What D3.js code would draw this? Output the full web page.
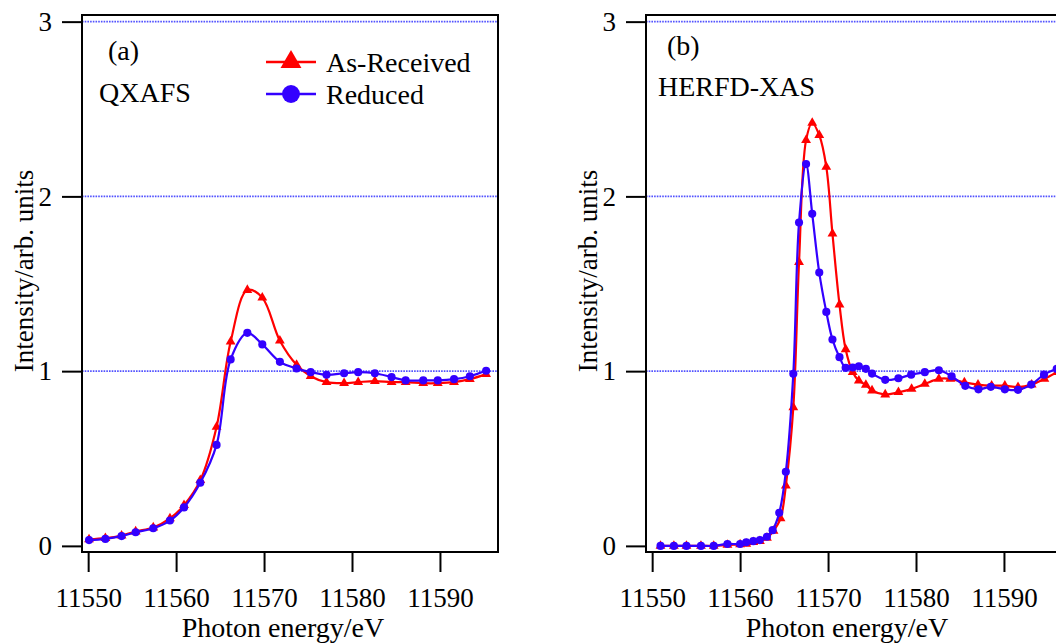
<!DOCTYPE html>
<html>
<head>
<meta charset="utf-8">
<script src="https://cdn.jsdelivr.net/npm/d3@7"></script>
<style>
	body { margin: 0; background: #fff; }
	svg { display: block; }
	svg text { font-family: "Liberation Serif", "DejaVu Serif", "Times New Roman", serif !important; fill: #000; }
</style>
</head>
<body>
<svg id="chart" width="1056" height="644"></svg>
<script>
(function(d3) {
	'use strict';

	/** data */
	var yTicks = [0, 1, 2, 3];
	var xTicks = [11550, 11560, 11570, 11580, 11590];
	var gridLevels = [1, 2, 3];

	var qxafsEnergy = [11550.1, 11551.96, 11553.8, 11555.4, 11557.4, 11559.3, 11560.9, 11562.75, 11564.6, 11566.2, 11568.1, 11569.8, 11571.8, 11573.7, 11575.3, 11577.1, 11579.1, 11580.7, 11582.6, 11584.5, 11586.1, 11588.1, 11589.75, 11591.6, 11593.4, 11595.25];
	var qxafsAsReceived = [0.037, 0.044, 0.059, 0.082, 0.105, 0.157, 0.233, 0.376, 0.681, 1.168, 1.464, 1.42, 1.174, 1.036, 0.971, 0.937, 0.931, 0.937, 0.943, 0.937, 0.937, 0.931, 0.931, 0.937, 0.954, 0.983];
	var qxafsReduced = [0.033, 0.040, 0.056, 0.078, 0.101, 0.145, 0.220, 0.361, 0.578, 1.067, 1.219, 1.153, 1.053, 1.015, 0.994, 0.979, 0.988, 0.994, 0.988, 0.966, 0.947, 0.947, 0.947, 0.954, 0.971, 1.002];

	var herfdEnergyAs = [11550.95, 11552.47, 11553.9, 11555.55, 11557.0, 11558.56, 11560.0, 11560.7, 11561.5, 11562.25, 11563.05, 11563.8, 11564.6, 11565.2, 11566.05, 11566.7, 11567.5, 11568.2, 11569.0, 11569.8, 11570.5, 11571.3, 11572.0, 11572.8, 11573.5, 11574.3, 11575.0, 11576.5, 11578.0, 11579.5, 11581.0, 11582.6, 11583.9, 11585.5, 11587.05, 11588.6, 11590.1, 11591.6, 11593.15, 11594.6, 11596.05];
	var herfdAsReceived = [0, 0, 0, 0, 0, 0.005, 0.008, 0.011, 0.021, 0.027, 0.046, 0.086, 0.157, 0.344, 0.793, 1.624, 2.322, 2.42, 2.35, 2.169, 1.787, 1.381, 1.125, 0.994, 0.946, 0.921, 0.889, 0.866, 0.879, 0.898, 0.927, 0.956, 0.956, 0.936, 0.923, 0.917, 0.917, 0.908, 0.923, 0.956, 0.994];
	var herfdEnergyRed = [11550.95, 11552.47, 11553.9, 11555.55, 11557.0, 11558.56, 11560.0, 11560.7, 11561.5, 11562.25, 11563.05, 11563.7, 11564.45, 11565.2, 11566.05, 11566.7, 11567.5, 11568.2, 11569.0, 11569.8, 11570.5, 11571.3, 11572.0, 11572.8, 11573.5, 11574.3, 11575.0, 11576.5, 11578.0, 11579.45, 11581.0, 11582.6, 11584.05, 11585.6, 11587.1, 11588.5, 11590.1, 11591.6, 11593.1, 11594.55, 11596.0];
	var herfdReduced = [0, 0, 0, 0, 0, 0.011, 0.011, 0.021, 0.027, 0.033, 0.052, 0.090, 0.189, 0.424, 0.985, 1.85, 2.185, 1.90, 1.564, 1.339, 1.181, 1.080, 1.019, 1.021, 1.028, 1.013, 0.986, 0.950, 0.959, 0.980, 0.994, 1.005, 0.971, 0.916, 0.896, 0.910, 0.896, 0.893, 0.923, 0.980, 1.013];

	var seriesNames = ['As-Received', 'Reduced'];

	var RED = '#ff0000', BLUE = '#3300ff', GRID = '#5252ff';
	var plotTop = 15, plotBottom = 552, plotWidth = 416;

	var svg = d3.select('#chart');

	var zip = function(xs, ys) {
		return xs.map(function(x, i) { return [x, ys[i]]; });
	};

	var Panel = function(left, id, tag, title, tagX, titleX, tagY, titleY, series) {
		var x = d3.scaleLinear().domain([11549.3, 11596.6]).range([0, plotWidth]);
		var y = d3.scaleLinear().domain([-0.035, 3.038]).range([plotBottom - plotTop, 0]);
		var h = plotBottom - plotTop;
		var g = svg.append('g').attr('transform', 'translate(' + left + ',' + plotTop + ')');

		g.append('clipPath').attr('id', 'clip-' + id)
			.append('rect').attr('width', plotWidth).attr('height', h);

		/** grid */
		g.append('g').selectAll('line').data(gridLevels).enter().append('line')
			.attr('x1', 0).attr('x2', plotWidth)
			.attr('y1', y).attr('y2', y)
			.attr('stroke', GRID).attr('stroke-width', 1.6)
			.attr('stroke-dasharray', '1.6,1.1');

		/** curves, red first so blue sits on top */
		var line = d3.line()
			.x(function(d) { return x(d[0]); })
			.y(function(d) { return y(d[1]); })
			.curve(d3.curveCatmullRom.alpha(0.5));
		var marks = g.append('g').attr('clip-path', 'url(#clip-' + id + ')');
		series.forEach(function(s) {
			var pts = zip(s.energy, s.values);
			marks.append('path').datum(pts)
				.attr('d', line).attr('fill', 'none')
				.attr('stroke', s.color).attr('stroke-width', 2.2);
			marks.append('g').selectAll('path').data(pts).enter().append('path')
				.attr('transform', function(d) { return 'translate(' + x(d[0]) + ',' + y(d[1]) + ')'; })
				.attr('d', d3.symbol().type(s.symbol).size(s.symbol === d3.symbolTriangle ? 42 : 52))
				.attr('fill', s.color);
		});

		/** frame */
		g.append('rect').attr('width', plotWidth).attr('height', h)
			.attr('fill', 'none').attr('stroke', '#000').attr('stroke-width', 2);

		/** axes */
		var yAxis = g.append('g').call(d3.axisLeft(y).tickValues(yTicks).tickSize(20).tickPadding(10)
			.tickFormat(d3.format('d')));
		var xAxis = g.append('g').attr('transform', 'translate(0,' + h + ')')
			.call(d3.axisBottom(x).tickValues(xTicks).tickSize(20).tickPadding(16)
			.tickFormat(d3.format('d')));
		[yAxis, xAxis].forEach(function(a) {
			a.attr('font-family', null);
			a.select('.domain').remove();
			a.selectAll('line').attr('stroke', '#000').attr('stroke-width', 2);
			a.selectAll('text').attr('font-size', 27);
		});

		/** labels */
		g.append('text').attr('x', plotWidth / 2 - 7).attr('y', 637 - plotTop)
			.attr('text-anchor', 'middle').attr('font-size', 28).text('Photon energy/eV');
		g.append('text').attr('transform', 'translate(-49,' + (271 - plotTop) + ') rotate(-90)')
			.attr('text-anchor', 'middle').attr('font-size', 27).text('Intensity/arb. units');
		g.append('text').attr('x', tagX).attr('y', tagY - plotTop).attr('font-size', 28).text(tag);
		g.append('text').attr('x', titleX).attr('y', titleY - plotTop).attr('font-size', 28).text(title);
	};

	new Panel(82, 'a', '(a)', 'QXAFS', 26, 17, 60, 102, [
		{ energy: qxafsEnergy, values: qxafsAsReceived, color: RED, symbol: d3.symbolTriangle },
		{ energy: qxafsEnergy, values: qxafsReduced, color: BLUE, symbol: d3.symbolCircle }
	]);
	new Panel(646, 'b', '(b)', 'HERFD-XAS', 21, 12, 55, 96, [
		{ energy: herfdEnergyAs, values: herfdAsReceived, color: RED, symbol: d3.symbolTriangle },
		{ energy: herfdEnergyRed, values: herfdReduced, color: BLUE, symbol: d3.symbolCircle }
	]);

	/** legend */
	var legend = svg.append('g').attr('transform', 'translate(266,62)');
	var legendItems = legend.selectAll('g').data(seriesNames).enter().append('g')
		.attr('transform', function(d, i) { return 'translate(0,' + (i * 32) + ')'; });
	legendItems.append('line').attr('x1', 0).attr('x2', 50)
		.attr('stroke', function(d, i) { return i === 0 ? RED : BLUE; }).attr('stroke-width', 2.4);
	legendItems.append('path').attr('transform', 'translate(25,0)')
		.attr('d', function(d, i) {
			return i === 0 ? d3.symbol().type(d3.symbolTriangle).size(190)() : d3.symbol().type(d3.symbolCircle).size(250)();
		})
		.attr('fill', function(d, i) { return i === 0 ? RED : BLUE; });
	legendItems.append('text').attr('x', 60).attr('y', 10).attr('font-size', 28).text(function(d) { return d; });
})(d3);
</script>
</body>
</html>
